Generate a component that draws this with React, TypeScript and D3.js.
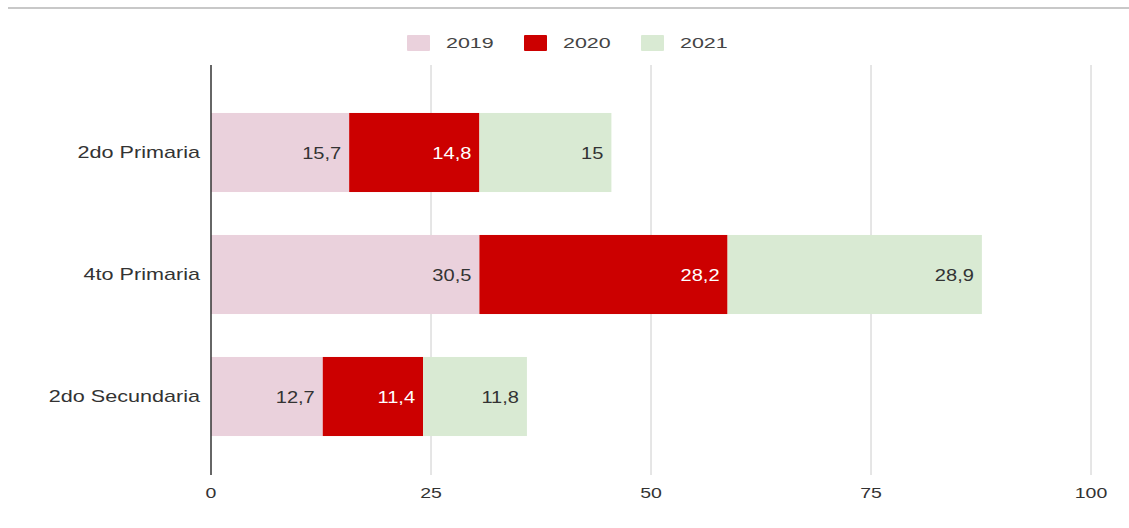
import { useEffect, useRef } from 'react';
import * as d3 from 'd3';

const categories = ['2do Primaria', '4to Primaria', '2do Secundaria'];
const years = ['2019', '2020', '2021'];
const values2019 = [15.7, 30.5, 12.7];
const values2020 = [14.8, 28.2, 11.4];
const values2021 = [15, 28.9, 11.8];
const xTicks = [0, 25, 50, 75, 100];

const colors = ['#ead1dc', '#cc0000', '#d9ead3'];
const labelColors = ['#333333', '#ffffff', '#333333'];

type Row = { cat: string; [k: string]: number | string };

const App = () => {
    const svgRef = useRef<SVGSVGElement | null>(null);

    useEffect(() => {
        if (!svgRef.current) return;
        const svg = d3.select(svgRef.current);
        svg.selectAll('*').remove();

        const width = 1129;
        const font = "'Liberation Sans', Arial, sans-serif";

        const rows: Row[] = categories.map((c, i) => ({
            cat: c,
            '2019': values2019[i],
            '2020': values2020[i],
            '2021': values2021[i],
        }));

        const series = d3.stack<Row>().keys(years).value((d, k) => d[k] as number)(rows);

        const x = d3.scaleLinear().domain([0, 100]).range([211, 1091]);
        const y = d3.scaleBand()
            .domain(categories)
            .range([91.5, 457.5])
            .paddingInner(0.352)
            .paddingOuter(0.176);
        const color = d3.scaleOrdinal<string>().domain(years).range(colors);

        // the picture is stretched horizontally, so text gets a scaleX
        const stretch = (sx: number) => (px: number, py: number) =>
            `translate(${px},${py}) scale(${sx},1)`;

        // cut-off caption rule at top
        svg.append('line')
            .attr('x1', 8).attr('x2', width)
            .attr('y1', 8).attr('y2', 8)
            .attr('stroke', '#c8c8c8').attr('stroke-width', 2);

        // gridlines
        svg.append('g')
            .selectAll('line')
            .data(xTicks.slice(1))
            .join('line')
            .attr('x1', d => x(d)).attr('x2', d => x(d))
            .attr('y1', 65).attr('y2', 475)
            .attr('stroke', '#cccccc').attr('stroke-width', 1);

        // bars
        const groups = svg.append('g')
            .selectAll('g')
            .data(series)
            .join('g')
            .attr('fill', d => color(d.key));

        groups.selectAll('rect')
            .data(d => d)
            .join('rect')
            .attr('x', d => x(d[0]))
            .attr('y', d => y(d.data.cat as string) as number)
            .attr('width', d => x(d[1]) - x(d[0]))
            .attr('height', y.bandwidth());

        // value labels
        const valT = stretch(1.18);
        series.forEach((s, si) => {
            svg.append('g')
                .selectAll('text')
                .data(s)
                .join('text')
                .attr('transform', d => valT(x(d[1]) - 8, (y(d.data.cat as string) as number) + y.bandwidth() / 2))
                .attr('dy', '0.36em')
                .attr('text-anchor', 'end')
                .attr('font-family', font)
                .attr('font-size', 17)
                .attr('fill', labelColors[si])
                .text(d => String(d.data[s.key]).replace('.', ','));
        });

        // zero axis line
        svg.append('line')
            .attr('x1', x(0)).attr('x2', x(0))
            .attr('y1', 65).attr('y2', 475)
            .attr('stroke', '#333333').attr('stroke-width', 1.5);

        // category labels
        const catT = stretch(1.35);
        svg.append('g')
            .selectAll('text')
            .data(categories)
            .join('text')
            .attr('transform', d => catT(200, (y(d) as number) + y.bandwidth() / 2))
            .attr('dy', '0.36em')
            .attr('text-anchor', 'end')
            .attr('font-family', font)
            .attr('font-size', 16)
            .attr('fill', '#333333')
            .text(d => d);

        // x tick labels
        const tickT = stretch(1.3);
        svg.append('g')
            .selectAll('text')
            .data(xTicks)
            .join('text')
            .attr('transform', d => tickT(x(d), 493))
            .attr('dy', '0.36em')
            .attr('text-anchor', 'middle')
            .attr('font-family', font)
            .attr('font-size', 15)
            .attr('fill', '#333333')
            .text(d => d);

        // legend
        const legendX = [407, 524, 641];
        const legend = svg.append('g')
            .selectAll('g')
            .data(years)
            .join('g')
            .attr('transform', (d, i) => `translate(${legendX[i]},35)`);

        legend.append('rect')
            .attr('width', 23).attr('height', 16)
            .attr('rx', 1)
            .attr('fill', d => color(d));

        legend.append('text')
            .attr('transform', stretch(1.43)(39, 8))
            .attr('dy', '0.36em')
            .attr('font-family', font)
            .attr('font-size', 15)
            .attr('fill', '#444444')
            .text(d => d);
    }, []);

    return (
        <svg
            ref={svgRef}
            width={1129}
            height={528}
            style={{ position: 'absolute', left: 0, top: 0, background: '#ffffff' }}
        />
    );
};

export default App;
